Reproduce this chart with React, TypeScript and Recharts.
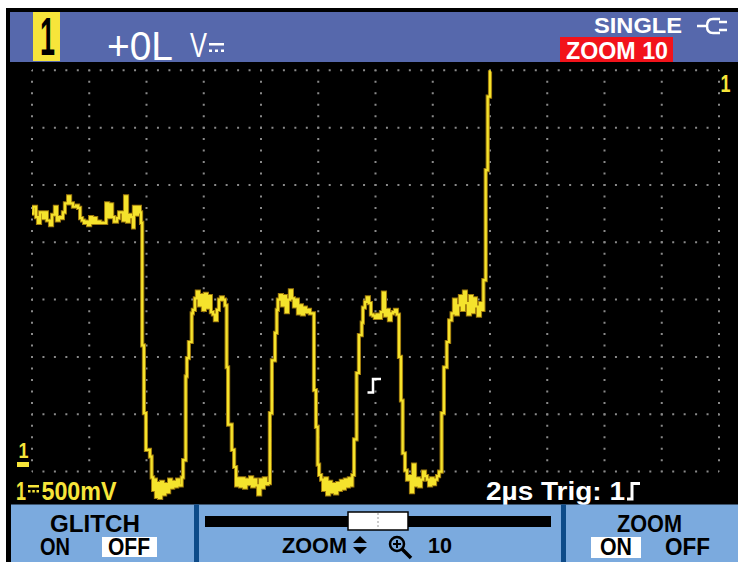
import React from 'react';
import { LineChart, Line, XAxis, YAxis, ReferenceLine, ReferenceDot } from 'recharts';

// ---- Data (time in µs, 2 µs/div; voltage in V, 500 mV/div, bottom graticule line = 0 V) ----
const timeGridUs = [0, 2, 4, 6, 8, 10, 12, 14, 16, 18, 20, 22, 24];
const voltGridV = [0, 0.5, 1, 1.5, 2, 2.5, 3, 3.5];

const highStart: [number, number][] = [
  [0, 2.25], [0.05, 2.31], [0.14, 2.22], [0.21, 2.17], [0.28, 2.26], [0.38, 2.21], [0.45, 2.26],
  [0.52, 2.19], [0.63, 2.15], [0.7, 2.24], [0.8, 2.31], [0.87, 2.19], [0.94, 2.22], [1.01, 2.21],
  [1.08, 2.26], [1.15, 2.34], [1.26, 2.4], [1.33, 2.34], [1.43, 2.31], [1.54, 2.32], [1.61, 2.3],
  [1.68, 2.21], [1.75, 2.19], [1.82, 2.17], [1.89, 2.18], [1.96, 2.15], [2.03, 2.22], [2.1, 2.17],
  [2.17, 2.21], [2.24, 2.17], [2.31, 2.18], [2.38, 2.17], [2.45, 2.17], [2.59, 2.34], [2.66, 2.22],
  [2.73, 2.33], [2.8, 2.22], [2.87, 2.18], [2.97, 2.21], [3.04, 2.26], [3.11, 2.26], [3.18, 2.19],
  [3.25, 2.4], [3.32, 2.18], [3.39, 2.24], [3.46, 2.22], [3.53, 2.13], [3.56, 2.31], [3.63, 2.24],
  [3.7, 2.31], [3.77, 2.26], [3.81, 2.17],
];
const fallA: [number, number][] = [[3.85, 1.1], [3.91, 0.51], [3.98, 0.19], [4.12, 0.13], [4.18, -0.05]];
const lowA: [number, number][] = [
  [4.23, -0.16], [4.28, -0.07], [4.33, -0.22], [4.38, -0.1], [4.44, -0.23], [4.51, -0.09], [4.58, -0.2],
  [4.65, -0.11], [4.72, -0.18], [4.79, -0.07], [4.86, -0.14], [4.93, -0.09], [5.0, -0.13], [5.07, -0.07],
  [5.14, -0.12], [5.23, -0.05],
];
const riseA: [number, number][] = [[5.28, 0.1], [5.37, 0.83], [5.41, 0.99], [5.48, 1.13], [5.58, 1.38], [5.62, 1.41]];
const highA: [number, number][] = [
  [5.69, 1.51], [5.76, 1.57], [5.83, 1.45], [5.9, 1.54], [5.97, 1.41], [6.04, 1.55], [6.11, 1.43],
  [6.18, 1.53], [6.25, 1.39], [6.32, 1.37], [6.39, 1.32], [6.46, 1.41], [6.53, 1.5], [6.6, 1.52],
  [6.67, 1.5], [6.74, 1.45],
];
const fallB: [number, number][] = [[6.8, 0.91], [6.85, 0.41], [6.98, 0.19], [7.06, 0.04]];
const lowB: [number, number][] = [
  [7.13, -0.12], [7.2, -0.06], [7.27, -0.13], [7.34, -0.06], [7.41, -0.14], [7.48, -0.07], [7.55, -0.11],
  [7.62, -0.05], [7.69, -0.13], [7.76, -0.07], [7.83, -0.12], [7.9, -0.2], [7.97, -0.07], [8.03, -0.14],
  [8.1, -0.06], [8.17, -0.11], [8.24, -0.1],
];
const riseB: [number, number][] = [[8.31, 0.51], [8.38, 0.97], [8.49, 1.21], [8.55, 1.41]];
const highB: [number, number][] = [
  [8.59, 1.5], [8.66, 1.54], [8.73, 1.45], [8.8, 1.53], [8.87, 1.39], [8.94, 1.5], [9.01, 1.58],
  [9.08, 1.51], [9.15, 1.44], [9.22, 1.5], [9.29, 1.38], [9.36, 1.45], [9.43, 1.37], [9.5, 1.43],
  [9.57, 1.39], [9.64, 1.41], [9.71, 1.38],
];
const fallC: [number, number][] = [[9.85, 0.71], [9.92, 0.39], [9.98, 0.06]];
const lowC: [number, number][] = [
  [10.03, -0.03], [10.1, -0.07], [10.17, -0.16], [10.24, -0.06], [10.31, -0.2], [10.38, -0.09],
  [10.45, -0.18], [10.52, -0.11], [10.59, -0.19], [10.66, -0.1], [10.72, -0.16], [10.79, -0.08],
  [10.86, -0.15], [10.93, -0.07], [11.0, -0.13], [11.07, -0.06], [11.14, -0.12], [11.19, -0.03],
];
const riseC: [number, number][] = [[11.25, 0.28], [11.34, 0.86], [11.42, 1.19], [11.52, 1.3], [11.56, 1.43]];
const highC: [number, number][] = [
  [11.63, 1.48], [11.7, 1.52], [11.77, 1.47], [11.84, 1.37], [11.91, 1.36], [11.98, 1.34], [12.05, 1.37],
  [12.12, 1.34], [12.19, 1.39], [12.26, 1.56], [12.33, 1.36], [12.4, 1.41], [12.47, 1.32], [12.54, 1.38],
  [12.61, 1.39], [12.68, 1.41], [12.75, 1.37],
];
const fallD: [number, number][] = [[12.82, 1.0], [12.89, 0.62], [12.95, 0.16], [13.03, 0.01]];
const lowD: [number, number][] = [
  [13.1, -0.07], [13.17, -0.04], [13.24, -0.18], [13.31, 0.06], [13.38, -0.12], [13.45, -0.06],
  [13.52, -0.13], [13.59, -0.07], [13.66, 0.0], [13.73, -0.04], [13.8, -0.07], [13.87, -0.12],
  [13.94, -0.06], [14.01, -0.11], [14.08, -0.07], [14.15, -0.04], [14.22, 0.0],
];
const riseD: [number, number][] = [[14.31, 0.51], [14.39, 0.91], [14.49, 1.13], [14.57, 1.32], [14.66, 1.38]];
const highD: [number, number][] = [
  [14.74, 1.5], [14.81, 1.37], [14.88, 1.45], [14.95, 1.53], [15.02, 1.41], [15.09, 1.57], [15.16, 1.47],
  [15.23, 1.37], [15.3, 1.53], [15.37, 1.39], [15.44, 1.51], [15.51, 1.44], [15.58, 1.36], [15.65, 1.47],
  [15.72, 1.41],
];
const riseEnd: [number, number][] = [[15.77, 1.67], [15.85, 2.63], [15.92, 3.27], [16.0, 3.49], [16.03, 3.49]];

const triggerTimeUs = 12;
const triggerLevelV = 0.75;

// ---- Labels ----
const channelLabel = '1';
const readingLabel = '+0L';
const unitLabel = 'V';
const modeLabel = 'SINGLE';
const zoomBadge = 'ZOOM 10';
const scaleLabel = '500mV';
const timebaseLabel = '2µs Trig: 1';
const glitchLabel = 'GLITCH';
const zoomLabel = 'ZOOM';
const zoomFactor = '10';

const tracePoints = [
  ...highStart, ...fallA, ...lowA, ...riseA, ...highA, ...fallB, ...lowB, ...riseB, ...highB,
  ...fallC, ...lowC, ...riseC, ...highC, ...fallD, ...lowD, ...riseD, ...highD, ...riseEnd,
];
const traceData = tracePoints.map(([t, v]) => ({ t, v }));

const HEADER_BLUE = '#5668AC';
const PANEL_BLUE = '#7BAADE';
const DIVIDER_BLUE = '#0D4B89';
const YELLOW = '#F7E53A';
const FONT = "'Liberation Sans', Arial, sans-serif";
const GRID = '#8a8a8a';

type TProps = { x: number; y: number; size: number; len: number; fill: string; bold?: boolean; children: React.ReactNode };
const T = ({ x, y, size, len, fill, bold = true, children }: TProps) => (
  <text
    x={x}
    y={y}
    fontSize={size}
    fontFamily={FONT}
    fontWeight={bold ? 'bold' : 'normal'}
    fill={fill}
    textLength={len}
    lengthAdjust="spacingAndGlyphs"
  >
    {children}
  </text>
);

const TriggerShape = (props: any) => {
  const { cx, cy } = props;
  return (
    <path
      d={`M${cx - 8} ${cy + 7} H${cx - 2.5} V${cy - 6.5} H${cx + 5.5}`}
      fill="none"
      stroke="#ffffff"
      strokeWidth={2.5}
    />
  );
};

export default function App() {
  return (
    <div style={{ position: 'absolute', left: 0, top: 0, width: 738, height: 562, overflow: 'hidden', background: '#fff' }}>
      <svg width={738} height={562} style={{ position: 'absolute', left: 0, top: 0 }}>
        <rect x={6} y={8} width={732} height={554} fill="#000" />
        <rect x={10} y={12} width={728} height={50} fill={HEADER_BLUE} />
      </svg>
      <div style={{ position: 'absolute', left: 0, top: 0 }}>
        <LineChart width={738} height={562} data={traceData} margin={{ top: 70.3, right: 19, bottom: 33.1, left: 32 }}>
          <XAxis dataKey="t" type="number" domain={[0, 24]} allowDataOverflow hide />
          <YAxis type="number" domain={[-0.5, 3.5]} allowDataOverflow hide />
          {voltGridV.map((v) => (
            <ReferenceLine
              key={'h' + v}
              segment={[{ x: 0, y: v }, { x: 24, y: v }]}
              stroke={GRID}
              strokeWidth={2}
              strokeDasharray="2 9.45"
              strokeDashoffset={1}
            />
          ))}
          {timeGridUs.map((t) => (
            <ReferenceLine
              key={'v' + t}
              segment={[{ x: t, y: 3.5 }, { x: t, y: 0 }]}
              stroke={GRID}
              strokeWidth={2}
              strokeDasharray="2 9.47"
              strokeDashoffset={1}
            />
          ))}
          <Line dataKey="v" type="stepAfter" stroke="#9E7A0E" strokeWidth={4.2} dot={false} activeDot={false} isAnimationActive={false} />
          <Line dataKey="v" type="stepAfter" stroke="#F5E32C" strokeWidth={2.2} dot={false} activeDot={false} isAnimationActive={false} />
          <ReferenceDot x={triggerTimeUs} y={triggerLevelV} r={0} shape={TriggerShape} />
        </LineChart>
      </div>
      <svg width={738} height={562} style={{ position: 'absolute', left: 0, top: 0, pointerEvents: 'none' }}>
        {/* header */}
        <rect x={33} y={12} width={27} height={49} fill={YELLOW} />
        <T x={40} y={55} size={53} len={15} fill="#000">{channelLabel}</T>
        <T x={107} y={59.5} size={40.5} len={66} fill="#fff" bold={false}>{readingLabel}</T>
        <T x={190} y={57} size={35} len={17} fill="#fff" bold={false}>{unitLabel}</T>
        <rect x={209} y={43} width={15} height={2.5} fill="#fff" />
        <rect x={209} y={49.5} width={3} height={2.5} fill="#fff" />
        <rect x={215} y={49.5} width={3} height={2.5} fill="#fff" />
        <rect x={221} y={49.5} width={3} height={2.5} fill="#fff" />
        <T x={594} y={32.5} size={22.5} len={88} fill="#fff">{modeLabel}</T>
        <path d="M697 26 H707 M720 19 H713 Q707 19 707 26 Q707 33 713 33 H720 M719 22 H727 M719 30 H727" fill="none" stroke="#fff" strokeWidth={2.5} />
        <rect x={560} y={37} width={113} height={25} fill="#F2131B" />
        <T x={566} y={59} size={24} len={102} fill="#fff">{zoomBadge}</T>

        {/* markers in the plot area */}
        <T x={720.5} y={92} size={23.7} len={10} fill={YELLOW}>{channelLabel}</T>
        <T x={18.5} y={458} size={22.3} len={10} fill={YELLOW}>{channelLabel}</T>
        <rect x={17} y={462} width={12} height={5} fill={YELLOW} />

        {/* bottom status line */}
        <T x={16} y={500} size={25} len={10} fill={YELLOW}>{channelLabel}</T>
        <rect x={28} y={485} width={11} height={2.5} fill={YELLOW} />
        <rect x={28} y={490} width={2.5} height={2.5} fill={YELLOW} />
        <rect x={32.3} y={490} width={2.5} height={2.5} fill={YELLOW} />
        <rect x={36.5} y={490} width={2.5} height={2.5} fill={YELLOW} />
        <T x={41.5} y={500} size={25} len={75} fill={YELLOW}>{scaleLabel}</T>
        <T x={486} y={500} size={25} len={139} fill="#fff">{timebaseLabel}</T>
        <path d="M627 499 H632 V483.5 H640" fill="none" stroke="#fff" strokeWidth={3} />

        {/* soft-key panel */}
        <rect x={11} y={504.5} width={727} height={58} fill={PANEL_BLUE} />
        <rect x={194} y={504.5} width={5} height={58} fill={DIVIDER_BLUE} />
        <rect x={561} y={504.5} width={5} height={58} fill={DIVIDER_BLUE} />

        <T x={50} y={532} size={23.7} len={90} fill="#000">{glitchLabel}</T>
        <T x={40} y={555} size={23.7} len={30} fill="#000">ON</T>
        <rect x={102} y={537} width={55} height={20} fill="#fff" />
        <T x={108} y={555} size={23.7} len={42} fill="#000">OFF</T>

        <rect x={205} y={516} width={346} height={11} fill="#000" />
        <rect x={348} y={512} width={60} height={18} fill="#fff" stroke="#000" strokeWidth={1.5} />
        <line x1={378} y1={513} x2={378} y2={529} stroke="#999" strokeWidth={1} strokeDasharray="2 2" />
        <T x={282} y={553} size={22.5} len={65} fill="#000">{zoomLabel}</T>
        <path d="M353 543 L360 536 L367 543 Z M353 547 L367 547 L360 554 Z" fill="#000" />
        <circle cx={397} cy={544} r={7} fill="none" stroke="#000" strokeWidth={2.5} />
        <path d="M393 544 H401 M397 540 V548" stroke="#000" strokeWidth={2} />
        <path d="M402 549 L411 558" stroke="#000" strokeWidth={3.5} />
        <T x={428} y={553} size={22.5} len={24} fill="#000">{zoomFactor}</T>

        <T x={617} y={532} size={23.7} len={65} fill="#000">{zoomLabel}</T>
        <rect x={591} y={537} width={50} height={21} fill="#fff" />
        <T x={600} y={555} size={23.7} len={32} fill="#000">ON</T>
        <T x={665} y={555} size={23.7} len={45} fill="#000">OFF</T>
      </svg>
    </div>
  );
}
